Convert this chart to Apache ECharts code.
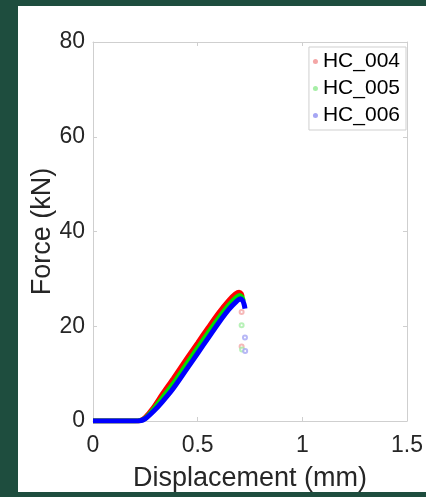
<!DOCTYPE html>
<html><head><meta charset="utf-8">
<script src="https://cdn.jsdelivr.net/npm/echarts@6/dist/echarts.min.js"></script>
<style>html,body{margin:0;padding:0;background:#1e4d3e;}#c{width:426px;height:497px;}</style>
</head><body><div id="c"></div>
<script>
// Displacement (mm) and Force (kN)
const dispRed   = [0, 0.10, 0.20, 0.225, 0.25, 0.288, 0.33, 0.384, 0.45, 0.50, 0.55, 0.60, 0.65, 0.68, 0.698, 0.708, 0.713];
const forceRed  = [0, 0, 0, 0.1, 0.8, 2.8, 5.6, 9.0, 13.3, 16.5, 19.7, 22.8, 25.5, 26.8, 27.2, 26.9, 26.2];
const dispGreen = [0, 0.10, 0.20, 0.225, 0.25, 0.288, 0.33, 0.384, 0.45, 0.50, 0.55, 0.60, 0.65, 0.685, 0.70, 0.712, 0.718];
const forceGreen= [0, 0, 0, 0.08, 0.6, 2.4, 4.8, 7.9, 12.2, 15.4, 18.6, 21.7, 24.5, 26.1, 26.5, 26.1, 25.3];
const dispBlue  = [0, 0.10, 0.20, 0.225, 0.25, 0.288, 0.33, 0.384, 0.45, 0.50, 0.55, 0.60, 0.65, 0.687, 0.703, 0.715, 0.722, 0.726];
const forceBlue = [0, 0, 0, 0.05, 0.5, 2.0, 4.0, 6.9, 11.1, 14.3, 17.5, 20.7, 23.6, 25.3, 25.8, 25.4, 24.6, 23.7];
// post-peak scattered points
const tailRed   = [[0.710, 23.0], [0.710, 15.7]];
const tailGreen = [[0.710, 20.2], [0.712, 15.1]];
const tailBlue  = [[0.726, 17.6], [0.727, 14.8]];
const names = ['HC_004', 'HC_005', 'HC_006'];
const xTicks = [0, 0.5, 1, 1.5];
const yTicks = [0, 20, 40, 60, 80];

const zip = (a, b) => a.map((v, i) => [v, b[i]]);
const lineCols = ['#ff0000', '#00e000', '#0000ff'];
const faintCols = ['#f4a6a6', '#a6eea6', '#a6a6f4'];
const curves = [zip(dispRed, forceRed), zip(dispGreen, forceGreen), zip(dispBlue, forceBlue)];
const tails = [tailRed, tailGreen, tailBlue];

const series = [];
names.forEach((n, i) => {
  series.push({name: n, type: 'line', data: curves[i], showSymbol: false, smooth: 0.3,
    lineStyle: {color: lineCols[i], width: 5}, itemStyle: {color: faintCols[i]}, z: 2 + i});
});
names.forEach((n, i) => {
  series.push({name: n, type: 'scatter', data: tails[i], symbol: 'emptyCircle', symbolSize: 4,
    itemStyle: {color: faintCols[i], borderColor: faintCols[i], borderWidth: 1}, z: 1});
});

const chart = echarts.init(document.getElementById('c'));
const axisCol = '#cfcfcf';
const fontFam = 'Liberation Sans, Arial, sans-serif';
const sideAxis = (extra) => Object.assign({
  axisLine: {show: true, onZero: false, lineStyle: {color: axisCol}},
  axisTick: {show: true, inside: true, length: 4, lineStyle: {color: axisCol}},
  splitLine: {show: false}
}, extra);
chart.setOption({
  animation: false,
  backgroundColor: 'transparent',
  graphic: [{type: 'rect', shape: {x: 18, y: 6, width: 408, height: 486}, style: {fill: '#ffffff'}, z: -10}],
  grid: {left: 93, top: 42, right: 19, bottom: 74},
  legend: {
    orient: 'vertical', right: 20, top: 47, width: 103,
    data: names.map((n, i) => ({name: n, icon: 'circle', itemStyle: {color: faintCols[i]}})),
    itemWidth: 5, itemHeight: 5, itemGap: 6,
    textStyle: {fontSize: 21, color: '#000', fontFamily: fontFam},
    borderColor: '#cfcfcf', borderWidth: 1, borderRadius: 0,
    padding: [4, 6, 4, 4], backgroundColor: '#fff', selectedMode: false
  },
  xAxis: [sideAxis({
    type: 'value', min: 0, max: 1.5, interval: 0.5, position: 'bottom',
    name: 'Displacement (mm)', nameLocation: 'middle', nameGap: 44, nameMoveOverlap: false,
    nameTextStyle: {fontSize: 27, color: '#262626', fontFamily: fontFam},
    axisLabel: {fontSize: 23, color: '#262626', fontFamily: fontFam, margin: 13,
      formatter: v => xTicks.includes(v) ? String(v) : ''}
  }), sideAxis({
    type: 'value', min: 0, max: 1.5, interval: 0.5, position: 'top',
    axisLabel: {show: false}
  })],
  yAxis: [sideAxis({
    type: 'value', min: 0, max: 80, interval: 20, position: 'left',
    name: 'Force (kN)', nameLocation: 'middle', nameGap: 37, nameMoveOverlap: false,
    nameTextStyle: {fontSize: 27, color: '#262626', fontFamily: fontFam},
    axisLabel: {fontSize: 23, color: '#262626', fontFamily: fontFam, margin: 8,
      formatter: v => yTicks.includes(v) ? String(v) : ''}
  }), sideAxis({
    type: 'value', min: 0, max: 80, interval: 20, position: 'right',
    axisLabel: {show: false}
  })],
  series: series
});
</script></body></html>
